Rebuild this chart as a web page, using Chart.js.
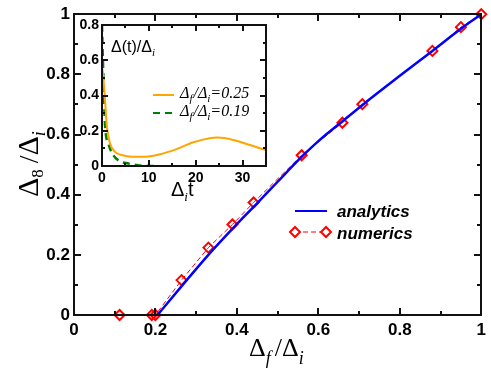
<!DOCTYPE html>
<html>
<head>
<meta charset="utf-8">
<script src="https://cdn.jsdelivr.net/npm/chart.js@4.4.1/dist/chart.umd.min.js"></script>
<style>
    html, body { margin: 0; padding: 0; background: #fff; }
    #wrap { position: relative; width: 491px; height: 369px; }
    #wrap canvas { position: absolute; left: 0; top: 0; }
</style>
</head>
<body>
<div id="wrap">
    <canvas id="main-chart" width="491" height="369"></canvas>
    <canvas id="inset-chart" width="491" height="369"></canvas>
</div>
<script>
// ---- data ------------------------------------------------------------------
const mainTickValues = [0, 0.2, 0.4, 0.6, 0.8, 1];
const mainMinorTicks = [0.1, 0.3, 0.5, 0.7, 0.9];

const analyticsX = [0.205, 0.27, 0.33, 0.39, 0.45, 0.5, 0.56, 0.6, 0.66, 0.71, 0.8, 0.88, 0.95, 1];
const analyticsY = [0, 0.105, 0.2, 0.288, 0.372, 0.443, 0.527, 0.578, 0.645, 0.7, 0.795, 0.878, 0.952, 1];

const numericsX = [0.112, 0.191, 0.2, 0.264, 0.33, 0.389, 0.441, 0.559, 0.659, 0.708, 0.88, 0.95, 1];
const numericsY = [0, 0, 0, 0.116, 0.224, 0.301, 0.374, 0.531, 0.639, 0.701, 0.878, 0.957, 1];

const insetXTicks = [0, 10, 20, 30];
const insetXMinor = [5, 15, 25];
const insetYTicks = [0, 0.2, 0.4, 0.6, 0.8];
const insetYMinor = [0.1, 0.3, 0.5, 0.7];

const gap025T = [0, 0.14, 0.64, 1.0, 1.7, 2.8, 4.2, 6.3, 8.8, 12.4, 15.9, 19.5, 23, 24.7, 28, 31.6, 35];
const gap025V = [0.56, 0.54, 0.38, 0.234, 0.129, 0.08, 0.062, 0.052, 0.052, 0.067, 0.096, 0.135, 0.158, 0.161, 0.148, 0.119, 0.09];

const gap019T = [0, 0.3, 0.64, 1.35, 2.4, 3.8, 5.6, 7.7, 9.5, 11];
const gap019V = [0.8, 0.5, 0.235, 0.129, 0.062, 0.027, 0.014, 0.004, 0.001, 0];

const toXY = (xs, ys) => xs.map((x, i) => ({ x, y: ys[i] }));

// ---- helpers ---------------------------------------------------------------
function drawRuns(ctx, x, y, runs) {
    for (const r of runs) {
        ctx.font = r.font;
        ctx.fillText(r.t, x, y + (r.dy || 0));
        x += ctx.measureText(r.t).width + (r.gap || 0);
    }
}

// box + inward ticks on all four sides, positions taken from the scales
function drawInwardTicks(chart, cfg) {
    const ctx = chart.ctx;
    const sx = chart.scales.x, sy = chart.scales.y;
    const L = Math.round(sx.left), R = Math.round(sx.right);
    const T = Math.round(sy.top), B = Math.round(sy.bottom);
    const w = 2;
    ctx.save();
    ctx.fillStyle = '#111111';
    const tickX = (v, len) => {
        const p = Math.round(sx.getPixelForValue(v));
        ctx.fillRect(p - 1, B - len, w, len);
        ctx.fillRect(p - 1, T, w, len);
    };
    const tickY = (v, len) => {
        const p = Math.round(sy.getPixelForValue(v));
        ctx.fillRect(L, p - 1, len, w);
        ctx.fillRect(R - len, p - 1, len, w);
    };
    cfg.xMajor.forEach(v => tickX(v, cfg.major));
    cfg.xMinor.forEach(v => tickX(v, cfg.minor));
    cfg.yMajor.forEach(v => tickY(v, cfg.major));
    cfg.yMinor.forEach(v => tickY(v, cfg.minor));
    ctx.fillRect(L - 1, T - 1, R - L + 2, w);
    ctx.fillRect(L - 1, B - 1, R - L + 2, w);
    ctx.fillRect(L - 1, T - 1, w, B - T + 2);
    ctx.fillRect(R - 1, T - 1, w, B - T + 2);
    ctx.restore();
}

const mainTickCfg = {
    major: 7, minor: 4,
    xMajor: mainTickValues, xMinor: mainMinorTicks,
    yMajor: mainTickValues, yMinor: mainMinorTicks,
};
const insetTickCfg = {
    major: 6, minor: 3,
    xMajor: insetXTicks, xMinor: insetXMinor,
    yMajor: insetYTicks, yMinor: insetYMinor,
};

const mainText = {
    id: 'mainText',
    afterDraw(chart) {
        drawInwardTicks(chart, mainTickCfg);
        const { ctx } = chart;
        const ds = chart.data.datasets;
        ctx.save();
        ctx.fillStyle = '#000';
        ctx.textBaseline = 'alphabetic';
        ctx.textAlign = 'left';

        // x title
        drawRuns(ctx, 249, 356, [
            { t: 'Δ', font: '26px "Liberation Serif"' },
            { t: 'f', font: 'italic 18px "Liberation Serif"', dy: 8, gap: 4 },
            { t: '/', font: '26px "Liberation Serif"' },
            { t: 'Δ', font: '26px "Liberation Serif"' },
            { t: 'i', font: 'italic 18px "Liberation Serif"', dy: 8 },
        ]);

        // y title, rotated
        ctx.save();
        ctx.translate(38, 197);
        ctx.rotate(-Math.PI / 2);
        drawRuns(ctx, 0, 0, [
            { t: 'Δ', font: '30px "Liberation Serif"' },
            { t: '8', font: '17px "Liberation Serif"', dy: 5, gap: 6 },
            { t: '/', font: '28px "Liberation Serif"' },
            { t: 'Δ', font: '30px "Liberation Serif"' },
            { t: 'i', font: 'italic 18px "Liberation Serif"', dy: 7 },
        ]);
        ctx.restore();

        // legend
        ctx.strokeStyle = ds[0].borderColor;
        ctx.lineWidth = 2;
        ctx.beginPath(); ctx.moveTo(295, 211); ctx.lineTo(327, 211); ctx.stroke();

        ctx.strokeStyle = ds[1].borderColor;
        ctx.lineWidth = 1;
        ctx.setLineDash([5, 3]);
        ctx.beginPath(); ctx.moveTo(295, 232); ctx.lineTo(326, 232); ctx.stroke();
        ctx.setLineDash([]);
        ctx.lineWidth = 2;
        for (const cx of [295, 326]) {
            ctx.beginPath();
            ctx.moveTo(cx, 227); ctx.lineTo(cx + 5, 232); ctx.lineTo(cx, 237); ctx.lineTo(cx - 5, 232);
            ctx.closePath();
            ctx.fillStyle = '#fff'; ctx.fill(); ctx.stroke();
        }
        ctx.fillStyle = '#000';
        ctx.font = 'italic bold 17px "Liberation Sans"';
        ctx.fillText(ds[0].label, 337, 217);
        ctx.fillText(ds[1].label, 337, 239);
        ctx.restore();
    },
};

const insetText = {
    id: 'insetText',
    afterDraw(chart) {
        drawInwardTicks(chart, insetTickCfg);
        const { ctx } = chart;
        const ds = chart.data.datasets;
        ctx.save();
        ctx.fillStyle = '#000';
        ctx.textAlign = 'left';
        ctx.textBaseline = 'alphabetic';

        drawRuns(ctx, 111, 52, [
            { t: 'Δ(t)/Δ', font: '16px "Liberation Sans"' },
            { t: 'i', font: 'italic 11px "Liberation Serif"', dy: 4 },
        ]);
        drawRuns(ctx, 171, 196, [
            { t: 'Δ', font: '20px "Liberation Sans"' },
            { t: 'i', font: 'italic 13px "Liberation Serif"', dy: 5 },
            { t: 't', font: '20px "Liberation Sans"' },
        ]);

        const legendRow = (y, i) => {
            ctx.strokeStyle = ds[i].borderColor;
            ctx.lineWidth = 2;
            ctx.setLineDash(ds[i].borderDash || []);
            ctx.beginPath(); ctx.moveTo(153, y); ctx.lineTo(174, y); ctx.stroke();
            ctx.setLineDash([]);
            drawRuns(ctx, 180, y + 3, [
                { t: 'Δ', font: 'italic 16px "Liberation Serif"' },
                { t: 'f', font: 'italic 11px "Liberation Serif"', dy: 4, gap: 1 },
                { t: '/Δ', font: 'italic 16px "Liberation Serif"' },
                { t: 'i', font: 'italic 11px "Liberation Serif"', dy: 4 },
                { t: '=' + ds[i].label, font: 'italic 16px "Liberation Serif"' },
            ]);
        };
        legendRow(95, 0);
        legendRow(113, 1);
        ctx.restore();
    },
};

const tickFont = size => ({ family: '"Liberation Sans"', weight: 'bold', size });
const fmtMain = v => (v === 0 ? '0' : v === 1 ? '1' : v.toFixed(1));
const axisBorder = { display: true, color: '#000', width: 2 };
const noGrid = { display: false, drawTicks: false, tickLength: 0 };

// ---- main chart ------------------------------------------------------------
new Chart(document.getElementById('main-chart'), {
    type: 'line',
    data: {
        datasets: [
            {
                label: 'analytics',
                data: toXY(analyticsX, analyticsY),
                borderColor: '#0000ff',
                borderWidth: 2.5,
                pointRadius: 0,
                cubicInterpolationMode: 'monotone',
            },
            {
                label: 'numerics',
                data: toXY(numericsX, numericsY),
                borderColor: '#ff0000',
                borderWidth: 1,
                borderDash: [5, 3],
                pointStyle: 'rectRot',
                pointRadius: 5,
                pointBorderWidth: 2,
                pointBackgroundColor: 'rgba(255,255,255,0)',
                pointBorderColor: '#ff0000',
                tension: 0,
            },
        ],
    },
    options: {
        responsive: false,
        animation: false,
        devicePixelRatio: 1,
        clip: false,
        layout: { padding: { left: 0, right: 5, top: 14, bottom: 0 } },
        plugins: { legend: { display: false }, tooltip: { enabled: false } },
        scales: {
            x: {
                type: 'linear', min: 0, max: 1,
                grid: noGrid, border: axisBorder,
                ticks: { padding: 5, color: '#000', font: tickFont(17), callback: fmtMain, maxRotation: 0, autoSkip: false },
                afterBuildTicks: s => { s.ticks = mainTickValues.map(value => ({ value })); },
                afterFit: s => { s.height = 54; },
            },
            y: {
                type: 'linear', min: 0, max: 1,
                grid: noGrid, border: axisBorder,
                ticks: { padding: 4, color: '#000', font: tickFont(17), callback: fmtMain, autoSkip: false },
                afterBuildTicks: s => { s.ticks = mainTickValues.map(value => ({ value })); },
                afterFit: s => { s.width = 74; },
            },
        },
    },
    plugins: [mainText],
});

// ---- inset -----------------------------------------------------------------
new Chart(document.getElementById('inset-chart'), {
    type: 'line',
    data: {
        datasets: [
            {
                label: '0.25',
                data: toXY(gap025T, gap025V),
                borderColor: '#ffa500',
                borderWidth: 2,
                pointRadius: 0,
                cubicInterpolationMode: 'monotone',
            },
            {
                label: '0.19',
                data: toXY(gap019T, gap019V),
                borderColor: '#008000',
                borderWidth: 2.5,
                borderDash: [7, 5],
                pointRadius: 0,
                cubicInterpolationMode: 'monotone',
            },
        ],
    },
    options: {
        responsive: false,
        animation: false,
        devicePixelRatio: 1,
        layout: { padding: { left: 0, right: 225, top: 25, bottom: 0 } },
        plugins: { legend: { display: false }, tooltip: { enabled: false } },
        scales: {
            x: {
                type: 'linear', min: 0, max: 35,
                grid: noGrid, border: axisBorder,
                ticks: { padding: 4, color: '#000', font: tickFont(14), maxRotation: 0, autoSkip: false },
                afterBuildTicks: s => { s.ticks = insetXTicks.map(value => ({ value })); },
                afterFit: s => { s.height = 203; },
            },
            y: {
                type: 'linear', min: 0, max: 0.8,
                grid: noGrid, border: axisBorder,
                ticks: { padding: 3, color: '#000', font: tickFont(14), autoSkip: false, callback: v => (v === 0 ? '0' : v.toFixed(1)) },
                afterBuildTicks: s => { s.ticks = insetYTicks.map(value => ({ value })); },
                afterFit: s => { s.width = 102; },
            },
        },
    },
    plugins: [insetText],
});
</script>
</body>
</html>
